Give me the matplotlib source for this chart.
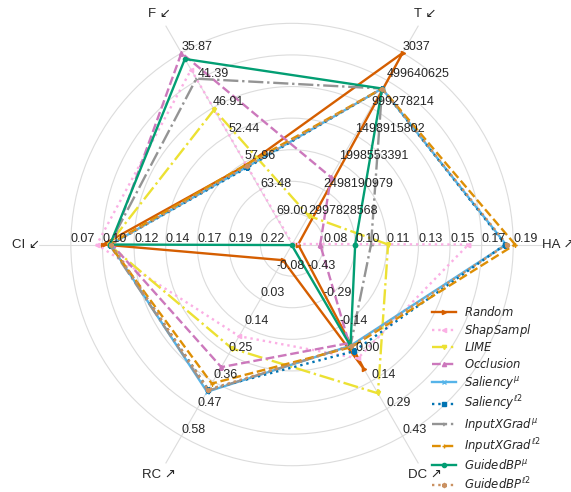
import numpy as np
import matplotlib.pyplot as plt

# spokes, counter-clockwise from the right
axis_names = ['HA ↗', 'T ↙', 'F ↙', 'CI ↙', 'RC ↗', 'DC ↗']
# value sitting on ring 1 (inner) and ring 7 (outer) of every spoke
ring1 = [0.08, 2997828568, 69.00, 0.22, -0.08, -0.43]
ring7 = [0.19, 3037, 35.87, 0.07, 0.58, 0.43]

ha_ticks = ['0.08', '0.10', '0.11', '0.13', '0.15', '0.17', '0.19']
t_ticks = ['2997828568', '2498190979', '1998553391', '1498915802',
           '999278214', '499640625', '3037']
f_ticks = ['69.00', '63.48', '57.96', '52.44', '46.91', '41.39', '35.87']
ci_ticks = ['0.22', '0.19', '0.17', '0.14', '0.12', '0.10', '0.07']
rc_ticks = ['-0.08', '0.03', '0.14', '0.25', '0.36', '0.47', '0.58']
dc_ticks = ['-0.43', '-0.29', '-0.14', '0.00', '0.14', '0.29', '0.43']
tick_labels = [ha_ticks, t_ticks, f_ticks, ci_ticks, rc_ticks, dc_ticks]

# values per method, order: HA, T, F, CI, RC, DC
random_vals = [0.0652, 3037, 58.51, 0.0955, -0.127, 0.080]
shapsampl_vals = [0.1640, 3487000000, 39.24, 0.0905, 0.1785, 0.023]
lime_vals = [0.1174, 2973000000, 47.30, 0.100, 0.228, 0.206]
occlusion_vals = [0.0780, 2268000000, 35.87, 0.1025, 0.3028, -0.057]
saliency_mu = [0.1858, 649500000, 58.84, 0.1013, 0.4018, -0.043]
saliency_l2 = [0.1854, 649500000, 58.95, 0.1013, 0.393, -0.014]
inputxgrad_mu = [0.1075, 649500000, 41.06, 0.1005, 0.3985, -0.043]
inputxgrad_l2 = [0.1911, 649500000, 58.40, 0.1005, 0.3688, -0.036]
guidedbp_mu = [0.0983, 649500000, 37.08, 0.101, -0.1878, -0.043]
guidedbp_l2 = [0.1863, 649500000, 58.73, 0.102, 0.393, -0.040]

series = [
    (r'$\mathit{Random}$', random_vals, '#d55e00', '-', '>'),
    (r'$\mathit{ShapSampl}$', shapsampl_vals, '#fbafe4', ':', '<'),
    (r'$\mathit{LIME}$', lime_vals, '#ece133', '-.', 'v'),
    (r'$\mathit{Occlusion}$', occlusion_vals, '#cc78bc', '--', '^'),
    (r'$\mathit{Saliency}^{\mu}$', saliency_mu, '#56b4e9', '-', 'x'),
    (r'$\mathit{Saliency}^{\ell 2}$', saliency_l2, '#0173b2', ':', 's'),
    (r'$\mathit{InputXGrad}^{\mu}$', inputxgrad_mu, '#949494', '-.', '4'),
    (r'$\mathit{InputXGrad}^{\ell 2}$', inputxgrad_l2, '#de8f05', '--', '+'),
    (r'$\mathit{GuidedBP}^{\mu}$', guidedbp_mu, '#029e73', '-', 'o'),
    (r'$\mathit{GuidedBP}^{\ell 2}$', guidedbp_l2, '#ca9161', ':', 'h'),
]

lab_font = ['Liberation Sans', 'DejaVu Sans']
angles = np.deg2rad(np.arange(0, 360, 60))
lo = np.array(ring1, dtype=float)
hi = np.array(ring7, dtype=float)

fig = plt.figure(figsize=(5.71, 4.92), dpi=100)
ax = fig.add_axes([0.0687, -0.0108, 0.8855, 1.0276], projection='polar')
ax.set_ylim(0, 8)
ax.set_rgrids(range(1, 8), labels=[])
ax.set_thetagrids(np.rad2deg(angles), labels=[])
ax.grid(color='#dcdcdc', linewidth=0.8)
ax.spines['polar'].set_visible(False)
ax.set_facecolor('white')

for label, vals, color, ls, mk in series:
    r = 1 + 6 * (np.array(vals, dtype=float) - lo) / (hi - lo)
    th = np.append(angles, angles[0])
    r = np.append(r, r[0])
    ax.plot(th, r, color=color, linestyle=ls, linewidth=1.7,
            marker=mk, markersize=3, label=label)

# ring values on each spoke
for a, ticks in zip(angles, tick_labels):
    for k, t in enumerate(ticks):
        ax.text(a, k + 1, t, ha='left', va='bottom', fontsize=9,
                family=lab_font, color='#262626')

for a, name in zip(angles, axis_names):
    ax.text(a, 8.42, name, ha='center', va='center', fontsize=9.5,
            family=lab_font, color='#262626')

ax.legend(loc='upper left', bbox_to_anchor=(426 / 571, 1 - 299 / 492),
          bbox_transform=fig.transFigure, frameon=False, fontsize=8.4,
          borderpad=0, handlelength=2.1, handletextpad=0.7,
          labelspacing=0.24, labelcolor='#262626')

fig.savefig('out.png', dpi=100)
